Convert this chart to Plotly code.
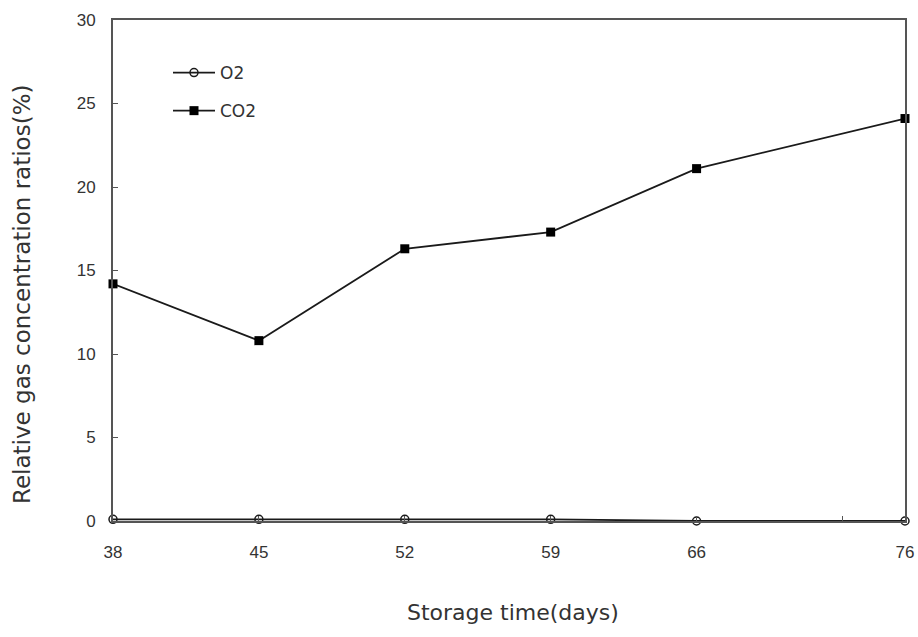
import plotly.graph_objects as go

# Storage time (days) and relative gas concentration ratios (%)
days = [38, 45, 52, 59, 66, 76]
o2_values = [0.1, 0.1, 0.1, 0.1, 0.0, 0.0]
co2_values = [14.2, 10.8, 16.3, 17.3, 21.1, 24.1]

x_tick_vals = [38, 45, 52, 59, 66, 73, 76]
x_tick_text = ["38", "45", "52", "59", "66", "", "76"]
y_tick_vals = [0, 5, 10, 15, 20, 25, 30]

x_title = "Storage time(days)"
y_title = "Relative gas concentration ratios(%)"

title_font = "DejaVu Sans, Liberation Sans, sans-serif"
tick_font = "Liberation Sans, Arial, sans-serif"
line_color = "#1a1a1a"
axis_color = "#555555"
text_color = "#333333"

# plot area in pixels
L, R, T, B = 113, 13, 20, 116
W, H = 918, 637
pw, ph = W - L - R, H - T - B


def px_to_paper(px, py):
    return (px - L) / pw, (H - B - py) / ph


fig = go.Figure()
fig.add_trace(go.Scatter(
    x=days, y=o2_values, name="O2", mode="lines+markers", legendgroup="o2",
    line=dict(color=line_color, width=1.8),
    marker=dict(symbol="circle-open", size=8, color=line_color, line=dict(width=1.5)),
    cliponaxis=False,
))
fig.add_trace(go.Scatter(
    x=days, y=co2_values, name="CO2", mode="lines+markers", legendgroup="co2",
    line=dict(color=line_color, width=1.8),
    marker=dict(symbol="square", size=9, color="#000000"),
    cliponaxis=False,
))

xt_x, xt_y = px_to_paper(513, 612)
yt_x, yt_y = px_to_paper(22, 295)

fig.update_layout(
    width=W, height=H,
    margin=dict(l=L, r=R, t=T, b=B, autoexpand=False),
    paper_bgcolor="white", plot_bgcolor="white",
    font=dict(family=tick_font, color=text_color),
    showlegend=True,
    legend=dict(
        x=(168 - L) / pw, y=(H - B - 55) / ph, xanchor="left", yanchor="top",
        bgcolor="rgba(0,0,0,0)", font=dict(size=17, color=text_color, family=title_font),
        itemwidth=42, traceorder="grouped", tracegroupgap=13,
    ),
    xaxis=dict(
        range=[38, 76], tickvals=x_tick_vals, ticktext=x_tick_text,
        ticks="inside", ticklen=5, tickcolor=axis_color,
        showline=True, linecolor=axis_color, linewidth=1.8, mirror=True,
        showgrid=False, zeroline=False, automargin=False,
        tickfont=dict(size=17, color=text_color), ticklabelstandoff=15,
    ),
    yaxis=dict(
        range=[0, 30], tickvals=y_tick_vals,
        ticks="inside", ticklen=5, tickcolor=axis_color,
        showline=True, linecolor=axis_color, linewidth=1.8, mirror=True,
        showgrid=False, zeroline=False, automargin=False,
        tickfont=dict(size=17, color=text_color), ticklabelstandoff=12,
    ),
    annotations=[
        dict(text=x_title, xref="paper", yref="paper", x=xt_x, y=xt_y,
             xanchor="center", yanchor="middle", showarrow=False,
             font=dict(family=title_font, size=22, color=text_color)),
        dict(text=y_title, xref="paper", yref="paper", x=yt_x, y=yt_y,
             xanchor="center", yanchor="middle", showarrow=False, textangle=-90,
             font=dict(family=title_font, size=23, color=text_color)),
    ],
)

fig.write_html("out.html")
